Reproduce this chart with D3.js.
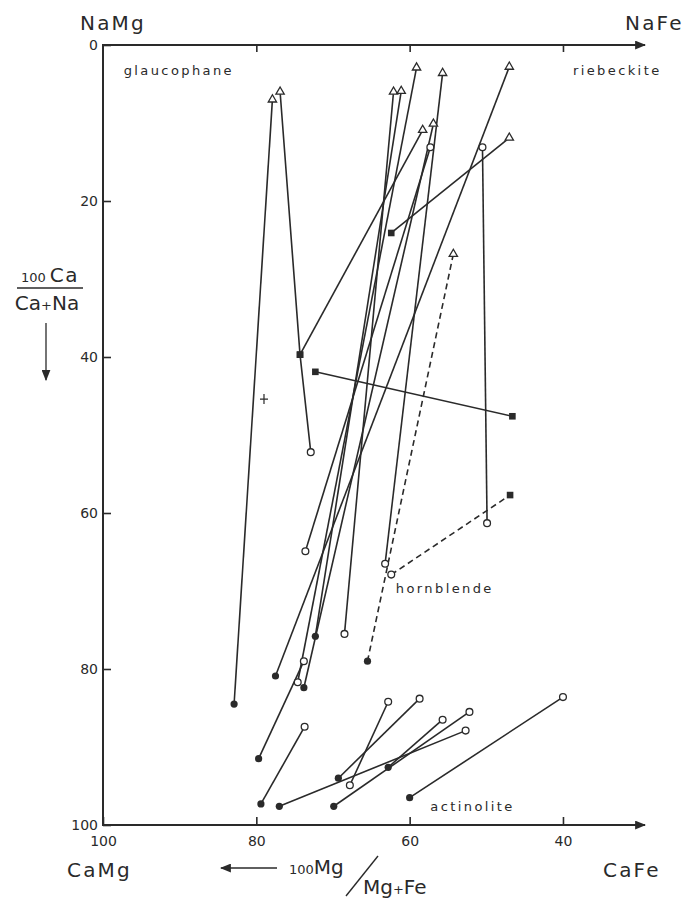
<!DOCTYPE html>
<html><head><meta charset="utf-8">
<script src="https://cdn.jsdelivr.net/npm/d3@7"></script>
<style>
body{margin:0;background:#fff}
svg{display:block}
text{font-family:"DejaVu Sans",sans-serif;fill:#2a2a2a}
</style>
</head><body>
<svg id="c" width="690" height="900"></svg>
<script>
// ---------- data (x = 100Mg/(Mg+Fe), y = 100Ca/(Ca+Na)) ----------
const xTicks = [100, 80, 60, 40];
const yTicks = [0, 20, 40, 60, 80, 100];

// each line: list of [Mg#, Ca%, marker]
const hornblendeLines = [
  [[82.9, 84.5, "dot"], [77.9, 7.0, "tri"]],
  [[72.9, 52.2, "ring"], [74.3, 39.7, "sq"], [76.9, 6.0, "tri"]],
  [[74.3, 39.7, "sq"], [58.3, 10.9, "tri"]],
  [[72.3, 41.9, "sq"], [46.6, 47.6, "sq"]],
  [[62.4, 24.1, "sq"], [47.0, 11.9, "tri"]],
  [[49.9, 61.3, "ring"], [50.5, 13.1, "ring"]],
  [[77.5, 80.9, "dot"], [47.0, 2.8, "tri"]],
  [[63.2, 66.5, "ring"], [55.7, 3.6, "tri"]],
  [[68.5, 75.5, "ring"], [62.1, 6.0, "tri"]],
  [[72.3, 75.8, "dot"], [61.1, 5.9, "tri"]],
  [[79.7, 91.5, "dot"], [73.8, 79.0, "ring"]],
  [[74.6, 81.7, "ring"], [59.1, 2.9, "tri"]],
  [[73.8, 82.4, "dot"], [56.9, 10.1, "tri"]],
  [[73.6, 64.9, "ring"], [57.3, 13.1, "ring"]]
];

const dashedLines = [
  [[62.4, 67.9, "ring"], [46.9, 57.7, "sq"]],
  [[65.5, 79.0, "dot"], [54.3, 26.8, "tri"]]
];

const actinoliteLines = [
  [[79.4, 97.3, "dot"], [73.7, 87.4, "ring"]],
  [[77.0, 97.6, "dot"], [52.7, 87.9, "ring"]],
  [[69.9, 97.6, "dot"], [52.2, 85.5, "ring"]],
  [[69.3, 94.0, "dot"], [58.7, 83.8, "ring"]],
  [[67.8, 94.9, "ring"], [62.8, 84.2, "ring"]],
  [[62.8, 92.6, "dot"], [55.7, 86.5, "ring"]],
  [[60.0, 96.5, "dot"], [40.0, 83.6, "ring"]]
];

const crossPoints = [[79.0, 45.4]];

const fieldLabels = [
  {text: "glaucophane", x: 97.3, y: 3.2},
  {text: "riebeckite", x: 38.7, y: 3.2},
  {text: "hornblende", x: 61.8, y: 69.7},
  {text: "actinolite", x: 57.3, y: 97.6}
];

// ---------- drawing ----------
const ink = "#2a2a2a";
const svg = d3.select("#c");
const x = d3.scaleLinear().domain([100, 29.3]).range([103, 645]);
const y = d3.scaleLinear().domain([0, 100]).range([45, 825]);

const defs = svg.append("defs");
defs.append("marker").attr("id", "arr").attr("viewBox", "0 0 10 8")
  .attr("refX", 9).attr("refY", 4).attr("markerWidth", 11).attr("markerHeight", 9)
  .attr("markerUnits", "userSpaceOnUse").attr("orient", "auto")
  .append("path").attr("d", "M0,0L10,4L0,8z").attr("fill", ink);

// axes
const gB = svg.append("g").attr("transform", `translate(0,${y(100)})`)
  .call(d3.axisBottom(x).tickValues(xTicks).tickSize(-8).tickSizeOuter(0).tickPadding(11));
const gT = svg.append("g").attr("transform", `translate(0,${y(0)})`)
  .call(d3.axisTop(x).tickValues(xTicks.slice(1)).tickSize(-7).tickSizeOuter(0).tickFormat(() => ""));
const gL = svg.append("g").attr("transform", `translate(${x(100)},0)`)
  .call(d3.axisLeft(y).tickValues(yTicks).tickSize(-8).tickSizeOuter(0).tickPadding(5));
[gB, gT, gL].forEach(g => {
  g.select(".domain").remove();
  g.selectAll(".tick line").attr("stroke", ink).attr("stroke-width", 1.6);
  g.selectAll("text").attr("font-size", 14).attr("font-family", "DejaVu Sans").attr("fill", ink);
});
// axis lines
svg.append("line").attr("x1", x(100)).attr("x2", x(29.3)).attr("y1", y(0)).attr("y2", y(0))
  .attr("stroke", ink).attr("stroke-width", 2).attr("marker-end", "url(#arr)");
svg.append("line").attr("x1", x(100)).attr("x2", x(29.3)).attr("y1", y(100)).attr("y2", y(100))
  .attr("stroke", ink).attr("stroke-width", 2).attr("marker-end", "url(#arr)");
svg.append("line").attr("x1", x(100)).attr("x2", x(100)).attr("y1", y(0) - 1).attr("y2", y(100) + 1)
  .attr("stroke", ink).attr("stroke-width", 2);

// lines
const line = d3.line().x(d => x(d[0])).y(d => y(d[1]));
function drawLines(data, dash) {
  svg.append("g").selectAll("path").data(data).join("path")
    .attr("d", line).attr("fill", "none").attr("stroke", ink).attr("stroke-width", 1.6)
    .attr("stroke-dasharray", dash || null);
}
drawLines(hornblendeLines);
drawLines(actinoliteLines);
drawLines(dashedLines, "6,4");

// markers
const allPts = [...hornblendeLines, ...dashedLines, ...actinoliteLines].flat();
const mk = svg.append("g");
allPts.forEach(p => {
  const cx = x(p[0]), cy = y(p[1]);
  if (p[2] === "dot") mk.append("circle").attr("cx", cx).attr("cy", cy).attr("r", 3.6).attr("fill", ink);
  else if (p[2] === "ring") mk.append("circle").attr("cx", cx).attr("cy", cy).attr("r", 3.4)
    .attr("fill", "#fff").attr("stroke", ink).attr("stroke-width", 1.3);
  else if (p[2] === "sq") mk.append("rect").attr("x", cx - 3.3).attr("y", cy - 3.3).attr("width", 6.6).attr("height", 6.6).attr("fill", ink);
  else if (p[2] === "tri") mk.append("path").attr("transform", `translate(${cx},${cy})`)
    .attr("d", d3.symbol(d3.symbolTriangle, 30)()).attr("fill", "#fff").attr("stroke", ink).attr("stroke-width", 1.3);
});
crossPoints.forEach(p => {
  mk.append("path").attr("d", `M${x(p[0]) - 4},${y(p[1])}h8M${x(p[0])},${y(p[1]) - 5}v10`)
    .attr("stroke", ink).attr("stroke-width", 1.2);
});

// field labels
svg.append("g").selectAll("text").data(fieldLabels).join("text")
  .attr("x", d => x(d.x)).attr("y", d => y(d.y)).attr("dy", "0.35em")
  .attr("font-size", 13).attr("letter-spacing", 2.4).text(d => d.text);

// corner labels
const corner = [
  {t: "NaMg", x: 80, y: 30}, {t: "NaFe", x: 625, y: 30},
  {t: "CaMg", x: 67, y: 877}, {t: "CaFe", x: 603, y: 877}
];
svg.append("g").selectAll("text").data(corner).join("text")
  .attr("x", d => d.x).attr("y", d => d.y).attr("font-size", 20).attr("letter-spacing", 2.2).text(d => d.t);

// y title
const yt = svg.append("g");
yt.append("text").attr("x", 50).attr("y", 282).attr("text-anchor", "middle")
  .html('<tspan font-size="13">100 </tspan><tspan font-size="20" letter-spacing="1.5">Ca</tspan>');
yt.append("line").attr("x1", 17).attr("x2", 83).attr("y1", 288).attr("y2", 288).attr("stroke", ink).attr("stroke-width", 1.3);
yt.append("text").attr("x", 47).attr("y", 310).attr("text-anchor", "middle")
  .html('<tspan font-size="20">Ca</tspan><tspan font-size="13">+</tspan><tspan font-size="20">Na</tspan>');
yt.append("line").attr("x1", 46).attr("x2", 46).attr("y1", 323).attr("y2", 380)
  .attr("stroke", ink).attr("stroke-width", 1.3).attr("marker-end", "url(#arr)");

// x title
const xt = svg.append("g");
xt.append("line").attr("x1", 277).attr("x2", 221).attr("y1", 868).attr("y2", 868)
  .attr("stroke", ink).attr("stroke-width", 1.3).attr("marker-end", "url(#arr)");
xt.append("text").attr("x", 289).attr("y", 874)
  .html('<tspan font-size="13">100</tspan><tspan font-size="20">Mg</tspan>');
xt.append("line").attr("x1", 346).attr("x2", 378).attr("y1", 896).attr("y2", 856).attr("stroke", ink).attr("stroke-width", 1.4);
xt.append("text").attr("x", 363).attr("y", 894)
  .html('<tspan font-size="20">Mg</tspan><tspan font-size="13">+</tspan><tspan font-size="20">Fe</tspan>');
</script>
</body></html>
